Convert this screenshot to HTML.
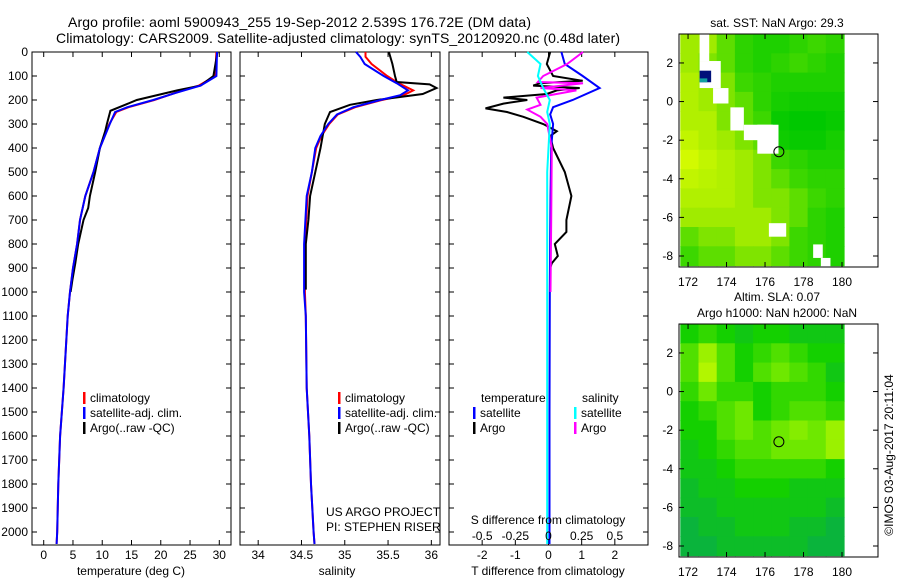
<!DOCTYPE html>
<html><head><meta charset="utf-8"><style>
body{margin:0;background:#fff;}
svg{display:block;font-family:"Liberation Sans",sans-serif;}
</style></head><body>
<svg id="c" width="900" height="580" xmlns="http://www.w3.org/2000/svg">
<text x="68" y="27" font-size="14" textLength="463">Argo profile: aoml 5900943_255 19-Sep-2012 2.539S 176.72E (DM data)</text>
<text x="56" y="43" font-size="14" textLength="564">Climatology: CARS2009. Satellite-adjusted climatology: synTS_20120920.nc (0.48d later)</text>
</svg>
<script>
// ---- profile data ----
const tDepthClim=[0,100,140,170,200,230,250,300,400,500,600,700,800,900,1000,1100,1400,1600,1800,2000,2050];
const tClim=[29.5,29.3,26.5,22.5,18.9,14.5,12.4,11.2,9.6,8.5,7.1,6.2,5.7,5.0,4.5,4.1,3.4,2.8,2.5,2.3,2.2];
const tSat=[29.6,29.5,26.8,22.6,18.7,14.3,12.2,11.3,9.6,8.5,7.1,6.2,5.7,5.0,4.5,4.1,3.4,2.8,2.5,2.3,2.2];
const tDepthArgo=[0,100,140,160,200,220,245,300,330,400,500,600,650,700,800,880,950,1000];
const tArgo=[29.7,29.0,26.8,22.8,15.9,13.9,11.4,10.8,10.5,9.6,8.8,7.9,7.6,6.8,5.9,5.4,4.9,4.6];
const sDepthClim=[0,20,50,100,130,160,180,200,230,260,300,350,400,500,600,800,1000,1100,1400,1600,1800,2000,2050];
const sClim=[35.24,35.24,35.31,35.49,35.62,35.79,35.68,35.43,35.12,34.92,34.82,34.73,34.67,34.62,34.57,34.54,34.54,34.55,34.56,34.59,34.61,34.64,34.65];
const sSat=[35.13,35.18,35.23,35.45,35.6,35.73,35.64,35.41,35.1,34.91,34.81,34.72,34.66,34.62,34.56,34.53,34.53,34.55,34.56,34.59,34.61,34.64,34.65];
const sDepthArgo=[0,50,100,125,135,150,175,200,220,250,300,400,500,600,700,800,990];
const sArgo=[35.51,35.55,35.58,35.6,35.98,36.06,35.9,35.37,35.06,34.83,34.77,34.72,34.66,34.6,34.58,34.55,34.55];
const dDepthBlue=[0,50,100,150,200,230,260,300,400,600,1000,1500,2050];
const dTSat=[0.39,0.49,1.03,1.54,0.73,0.14,0.05,0.14,0.08,0.06,0.04,0.03,0.03];
const dDepthBlack=[0,50,100,120,130,140,150,160,175,190,200,215,235,250,270,300,330,350,400,500,600,700,750,800,850,880,900];
const dTArgo=[0.05,-0.05,0.14,1.03,-0.25,-0.46,0.94,0.25,-0.05,-1.36,-0.64,-1.36,-1.9,-1.25,-0.76,-0.16,0.25,0.05,0.14,0.49,0.69,0.54,0.54,0.19,0.28,0.1,0.05];
const dDepthMag=[0,50,100,125,130,150,160,190,220,240,270,300,400,700,1000];
const dSArgo=[0.26,0.14,-0.04,-0.08,0.26,-0.06,0.21,-0.09,-0.06,-0.16,-0.06,-0.01,0.025,0.02,0.015];
const dDepthCyan=[0,50,100,150,200,250,300,500,1000,2050];
const dSSat=[-0.16,-0.06,-0.08,-0.04,0.01,-0.01,0.01,-0.01,-0.01,-0.01];
const depthTicks=[0,100,200,300,400,500,600,700,800,900,1000,1100,1200,1300,1400,1500,1600,1700,1800,1900,2000];
const tTicks=[0,5,10,15,20,25,30];
const sTicks=[34,34.5,35,35.5,36];
const sTickLabels=["34","34.5","35","35.5","36"];
const dtTicks=[-2,-1,0,1,2];
const dsTicks=[-0.5,-0.25,0,0.25,0.5];
const dsTickLabels=["-0.5","-0.25","0","0.25","0.5"];
// ---- map data (value 0..1 colour index; rows north->south 3.5..-8.5, cols 171.6..180.1) ----
const sstGrid=[
[0.7,0.7,0.5,0.3,0.2,0.2,0.3,0.4,0.3],
[0.7,0.6,0.5,0.3,0.2,0.3,0.4,0.3,0.2],
[0.8,0.7,0.6,0.4,0.3,0.2,0.2,0.2,0.2],
[0.8,0.7,0.6,0.5,0.3,0.15,0.1,0.1,0.1],
[0.8,0.8,0.6,0.5,0.4,0.05,0.0,0.0,0.05],
[0.9,0.8,0.7,0.6,0.5,0.1,0.05,0.05,0.15],
[1.0,0.9,0.8,0.7,0.6,0.4,0.3,0.2,0.2],
[0.9,0.85,0.8,0.7,0.6,0.5,0.4,0.3,0.3],
[0.8,0.8,0.8,0.7,0.6,0.6,0.5,0.4,0.3],
[0.7,0.7,0.7,0.7,0.7,0.6,0.5,0.3,0.2],
[0.5,0.6,0.6,0.7,0.7,0.6,0.4,0.3,0.2],
[0.4,0.5,0.5,0.6,0.6,0.5,0.4,0.3,0.2]];
const slaGrid=[
[0.3,0.4,0.3,0.2,0.3,0.3,0.2,0.2,0.2],
[0.5,0.8,0.5,0.3,0.4,0.5,0.4,0.3,0.3],
[0.5,0.9,0.5,0.3,0.5,0.6,0.5,0.4,0.2],
[0.4,0.6,0.4,0.4,0.3,0.4,0.4,0.4,0.3],
[0.3,0.4,0.5,0.6,0.3,0.4,0.5,0.5,0.4],
[0.3,0.3,0.5,0.6,0.5,0.6,0.7,0.6,0.8],
[0.2,0.3,0.4,0.5,0.5,0.6,0.6,0.6,0.8],
[0.2,0.2,0.3,0.4,0.4,0.4,0.4,0.4,0.3],
[0.1,0.2,0.2,0.3,0.3,0.3,0.2,0.2,0.2],
[0.1,0.1,0.2,0.2,0.2,0.2,0.2,0.2,0.1],
[0.0,0.1,0.1,0.2,0.2,0.2,0.1,0.1,0.0],
[0.0,0.0,0.1,0.1,0.1,0.1,0.1,0.0,0.0]];
const cloudMask=[[172.6,173.1,2.1,3.5],[172.6,173.7,0.7,2.1],[173.3,174.1,-0.1,0.7],[174.2,174.9,-1.5,-0.3],[174.9,176.4,-2.0,-1.2],[175.6,176.7,-2.7,-1.2],[176.2,177.1,-7.0,-6.3],[178.5,179.0,-8.1,-7.4],[178.9,179.4,-8.6,-8.1]];
const latTicks=[2,0,-2,-4,-6,-8];
const lonTicks=[172,174,176,178,180];
const argoLon=176.72, argoLat=-2.6;

const NS="http://www.w3.org/2000/svg";
const svg=document.getElementById('c');
function el(tag,attrs,parent){const e=document.createElementNS(NS,tag);for(const k in attrs)e.setAttribute(k,attrs[k]);(parent||svg).appendChild(e);return e;}
function txt(x,y,s,size,anchor,parent){const t=el('text',{x:x,y:y,'font-size':size,'text-anchor':anchor||'start'},parent);t.textContent=s;return t;}

const yTop=52,yBot=545;
const yD=d=>yTop+d*0.24;
function linear(d0,d1,r0,r1){return v=>r0+(v-d0)/(d1-d0)*(r1-r0);}
const panels=[
 {name:'temperature-panel',x0:32,x1:231,sc:linear(-2,32,32,231)},
 {name:'salinity-panel',x0:240,x1:440,sc:linear(33.79,36.1,240,440)},
 {name:'difference-panel',x0:449,x1:648,sc:linear(-3,3,449,648)}
];
const dsScale=linear(-0.75,0.75,449,648);

for(const d of depthTicks){
 const t=txt(28,yD(d)+4,String(d),12,'end');
 
 
}
function line(xs,ds,sc,color,name,g){
 const pts=xs.map((v,i)=>sc(v).toFixed(1)+','+yD(ds[i]).toFixed(1)).join(' ');
 const p=el('polyline',{points:pts,fill:'none',stroke:color,'stroke-width':2,'stroke-linejoin':'miter'},g);
 
 
}
panels.forEach((p,i)=>{
 const g=el('g',{});
 
 
 const fr=el('rect',{x:p.x0,y:yTop,width:p.x1-p.x0,height:yBot-yTop,fill:'none',stroke:'#000','stroke-width':1},g);
 
 
 for(const d of depthTicks){
  el('line',{x1:p.x0,x2:p.x0+5,y1:yD(d),y2:yD(d),stroke:'#000'},g);
  el('line',{x1:p.x1-5,x2:p.x1,y1:yD(d),y2:yD(d),stroke:'#000'},g);
 }
 p.g=g;
});
{const p=panels[0],g=p.g;
 tTicks.forEach(v=>{const x=p.sc(v);el('line',{x1:x,x2:x,y1:yTop,y2:yTop+5,stroke:'#000'},g);el('line',{x1:x,x2:x,y1:yBot-5,y2:yBot,stroke:'#000'},g);
  const t=txt(x,559,String(v),12,'middle',g);});
 const a=txt(131,575,'temperature (deg C)',12,'middle',g);
 line(tClim,tDepthClim,p.sc,'#ff0000','temperature-climatology-line',g);
 line(tArgo,tDepthArgo,p.sc,'#000000','temperature-argo-line',g);
 line(tSat,tDepthClim,p.sc,'#0000ff','temperature-satellite-line',g);
}
{const p=panels[1],g=p.g;
 sTicks.forEach((v,i)=>{const x=p.sc(v);el('line',{x1:x,x2:x,y1:yTop,y2:yTop+5,stroke:'#000'},g);el('line',{x1:x,x2:x,y1:yBot-5,y2:yBot,stroke:'#000'},g);
  const t=txt(x,559,sTickLabels[i],12,'middle',g);});
 const a=txt(337,575,'salinity',12,'middle',g);
 line(sClim,sDepthClim,p.sc,'#ff0000','salinity-climatology-line',g);
 line(sArgo,sDepthArgo,p.sc,'#000000','salinity-argo-line',g);
 line(sSat,sDepthClim,p.sc,'#0000ff','salinity-satellite-line',g);
 const u=txt(326,516,'US ARGO PROJECT',12,'start',g);
 const u2=txt(326,531,'PI: STEPHEN RISER',12,'start',g);
}
{const p=panels[2],g=p.g;
 dtTicks.forEach(v=>{const x=p.sc(v);el('line',{x1:x,x2:x,y1:yTop,y2:yTop+5,stroke:'#000'},g);el('line',{x1:x,x2:x,y1:yBot-5,y2:yBot,stroke:'#000'},g);
  const t=txt(x,559,String(v),12,'middle',g);});
 const a=txt(548,575,'T difference from climatology',12,'middle',g);
 line(dTArgo,dDepthBlack,p.sc,'#000000','t-diff-argo-line',g);
 line(dTSat,dDepthBlue,p.sc,'#0000ff','t-diff-satellite-line',g);
 line(dSArgo,dDepthMag,dsScale,'#ff00ff','s-diff-argo-line',g);
 line(dSSat,dDepthCyan,dsScale,'#00ffff','s-diff-satellite-line',g);
 dsTicks.forEach((v,i)=>{const t=txt(dsScale(v),540,dsTickLabels[i],12,'middle',g);});
 const s=txt(548,524,'S difference from climatology',12,'middle',g);
}
function legend(x,y,color,label,name){
 const g=el('g',{});
 
 
 el('rect',{x:x,y:y-10,width:2.5,height:12,fill:color},g);
 txt(x+7,y,label,12,'start',g);
}
legend(83,402,'#ff0000','climatology','legend-climatology');
legend(83,417,'#0000ff','satellite-adj. clim.','legend-satellite-adj');
legend(83,432,'#000000','Argo(..raw -QC)','legend-argo');
legend(338,402,'#ff0000','climatology','legend-climatology-2');
legend(338,417,'#0000ff','satellite-adj. clim.','legend-satellite-adj-2');
legend(338,432,'#000000','Argo(..raw -QC)','legend-argo-2');
{const t=txt(481,402,'temperature',12,'start');
 const t2=txt(582,402,'salinity',12,'start');}
legend(473,417,'#0000ff','satellite','legend-t-satellite');
legend(473,432,'#000000','Argo','legend-t-argo');
legend(574,417,'#00ffff','satellite','legend-s-satellite');
legend(574,432,'#ff00ff','Argo','legend-s-argo');

function colSST(v){const stops=[[0,[0,200,0]],[0.4,[60,215,0]],[0.7,[160,235,0]],[1,[210,250,0]]];return interp(stops,v);}
function colSLA(v){const stops=[[0,[10,180,60]],[0.3,[20,208,0]],[0.6,[110,232,0]],[1,[200,250,0]]];return interp(stops,v);}
function interp(st,v){for(let i=1;i<st.length;i++){if(v<=st[i][0]){const f=(v-st[i-1][0])/(st[i][0]-st[i-1][0]);const c=st[i-1][1].map((a,k)=>Math.round(a+(st[i][1][k]-a)*f));return 'rgb('+c.join(',')+')';}}return 'rgb('+st[st.length-1][1].join(',')+')';}
function drawMap(y0,grid,cf,title,name,isSST){
 const lx=linear(171.53,181.87,679,878), ly=linear(3.5,-8.57,y0,y0+233);
 const g=el('g',{});
 
 
 const nR=grid.length,nC=grid[0].length;
 const lon0=171.6,lon1=180.1,lat0=3.5,lat1=-8.5;
 for(let r=0;r<nR;r++)for(let c=0;c<nC;c++){
  const xa=lx(lon0+(lon1-lon0)*c/nC),xb=lx(lon0+(lon1-lon0)*(c+1)/nC);
  const ya=ly(lat0+(lat1-lat0)*r/nR),yb=ly(lat0+(lat1-lat0)*(r+1)/nR);
  const cell=el('rect',{x:xa.toFixed(1),y:ya.toFixed(1),width:(xb-xa+0.6).toFixed(1),height:(yb-ya+0.6).toFixed(1),fill:cf(grid[r][c])},g);
  
  
 }
 if(isSST){
  for(const m of cloudMask){const w=el('rect',{x:lx(m[0]),y:ly(m[3]),width:lx(m[1])-lx(m[0]),height:ly(m[2])-ly(m[3]),fill:'#fff'},g);
   }
  const b=el('rect',{x:lx(172.6),y:ly(1.6),width:lx(173.2)-lx(172.6),height:ly(1.0)-ly(1.6),fill:'#00107a'},g);
  
  el('rect',{x:lx(172.6),y:ly(1.2),width:lx(173.0)-lx(172.6),height:ly(1.0)-ly(1.2),fill:'#10a0a0'},g);
 }
 const fr=el('rect',{x:679,y:y0,width:199,height:233,fill:'none',stroke:'#000'},g);
 
 
 latTicks.forEach(v=>{const y=ly(v);el('line',{x1:679,x2:684,y1:y,y2:y,stroke:'#000'},g);el('line',{x1:873,x2:878,y1:y,y2:y,stroke:'#000'},g);
  const t=txt(673,y+4,String(v),12,'end',g);});
 lonTicks.forEach(v=>{const x=lx(v);el('line',{x1:x,x2:x,y1:y0,y2:y0+5,stroke:'#000'},g);el('line',{x1:x,x2:x,y1:y0+228,y2:y0+233,stroke:'#000'},g);
  const t=txt(x,y0+252,String(v),12,'middle',g);});
 const ci=el('circle',{cx:lx(argoLon),cy:ly(argoLat),r:5,fill:'none',stroke:'#000','stroke-width':1},g);
 
 
 title.forEach((s,i)=>{const t=txt(777,y0-7-(title.length-1-i)*16,s,12,'middle',g);});
}
drawMap(34,sstGrid,colSST,['sat. SST: NaN Argo: 29.3'],'sst-map',true);
drawMap(324,slaGrid,colSLA,['Altim. SLA: 0.07','Argo h1000: NaN h2000: NaN'],'sla-map',false);
{const t=txt(0,0,'©IMOS 03-Aug-2017 20:11:04',12,'middle');
 t.setAttribute('transform','translate(893,455) rotate(-90)');
 
 }
</script>
</body></html>
